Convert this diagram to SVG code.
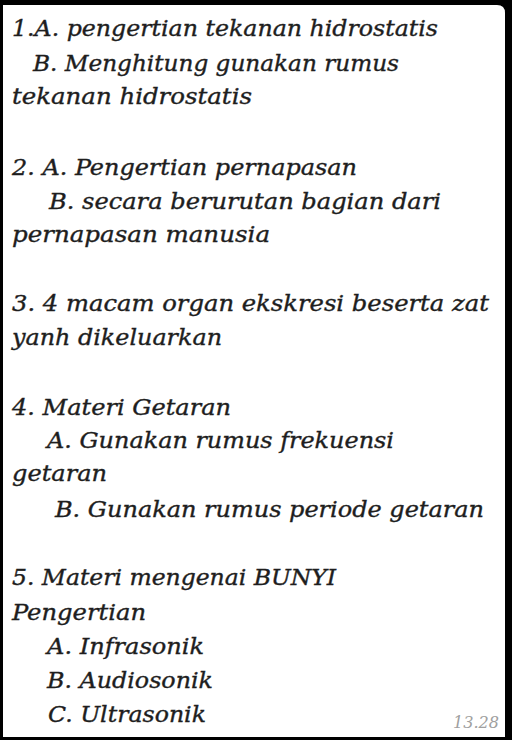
<svg xmlns="http://www.w3.org/2000/svg" width="512" height="740" viewBox="0 0 512 740">
<style>
.t{font-family:"DejaVu Serif Condensed","DejaVu Serif","Liberation Serif",serif;font-style:italic;font-size:23px;fill:#1e1e1e;stroke:#1e1e1e;stroke-width:0.35}
.time{font-family:"DejaVu Serif Condensed","DejaVu Serif","Liberation Serif",serif;font-style:italic;font-size:16px;fill:#a0a0a0}
</style>
<rect x="0" y="0" width="512" height="740" fill="#000"/>
<path d="M3,5 H497 Q505,5 505,13 V737 H3 Z" fill="#fff"/>
<g id="note">
<text class="t" x="12" y="36" textLength="426" lengthAdjust="spacingAndGlyphs">1.A. pengertian tekanan hidrostatis</text>
<text class="t" x="33" y="71" textLength="366" lengthAdjust="spacingAndGlyphs">B. Menghitung gunakan rumus</text>
<text class="t" x="12" y="104" textLength="240" lengthAdjust="spacingAndGlyphs">tekanan hidrostatis</text>
<text class="t" x="12" y="175" textLength="345" lengthAdjust="spacingAndGlyphs">2. A. Pengertian pernapasan</text>
<text class="t" x="49" y="209" textLength="392" lengthAdjust="spacingAndGlyphs">B. secara berurutan bagian dari</text>
<text class="t" x="12" y="242" textLength="258" lengthAdjust="spacingAndGlyphs">pernapasan manusia</text>
<text class="t" x="12" y="311" textLength="477" lengthAdjust="spacingAndGlyphs">3. 4 macam organ ekskresi beserta zat</text>
<text class="t" x="12" y="345" textLength="210" lengthAdjust="spacingAndGlyphs">yanh dikeluarkan</text>
<text class="t" x="12" y="415" textLength="219" lengthAdjust="spacingAndGlyphs">4. Materi Getaran</text>
<text class="t" x="47" y="448" textLength="347" lengthAdjust="spacingAndGlyphs">A. Gunakan rumus frekuensi</text>
<text class="t" x="12" y="481" textLength="95" lengthAdjust="spacingAndGlyphs">getaran</text>
<text class="t" x="55" y="517" textLength="429" lengthAdjust="spacingAndGlyphs">B. Gunakan rumus periode getaran</text>
<text class="t" x="12" y="585" textLength="324" lengthAdjust="spacingAndGlyphs">5. Materi mengenai BUNYI</text>
<text class="t" x="12" y="620" textLength="134" lengthAdjust="spacingAndGlyphs">Pengertian</text>
<text class="t" x="47" y="654" textLength="157" lengthAdjust="spacingAndGlyphs">A. Infrasonik</text>
<text class="t" x="47" y="688" textLength="166" lengthAdjust="spacingAndGlyphs">B. Audiosonik</text>
<text class="t" x="48" y="722" textLength="158" lengthAdjust="spacingAndGlyphs">C. Ultrasonik</text>
<text class="time" x="453" y="728" textLength="46" lengthAdjust="spacingAndGlyphs">13.28</text>
</g>
</svg>
